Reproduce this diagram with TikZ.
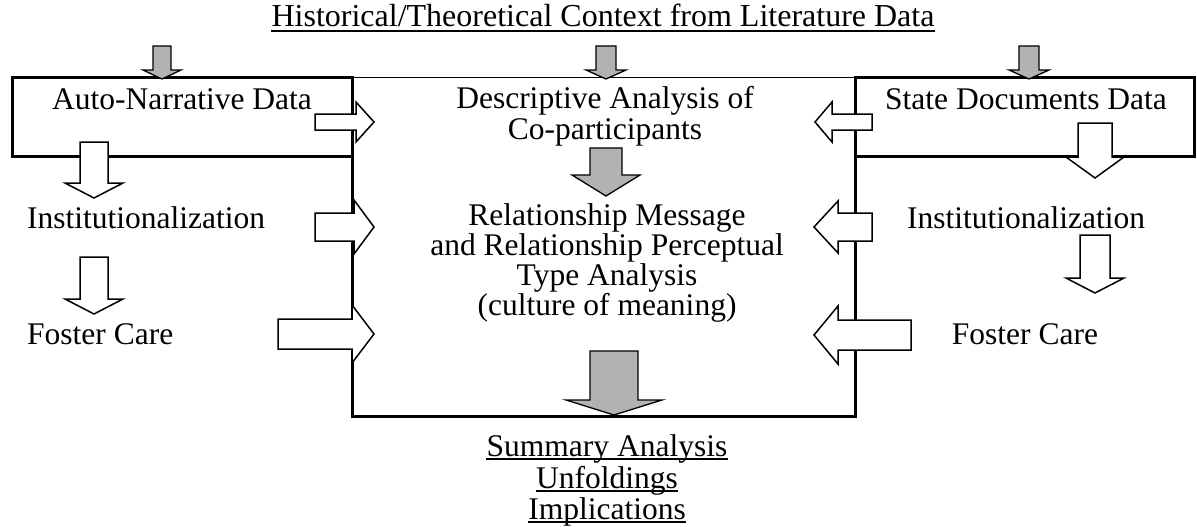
\documentclass[tikz,border=0pt]{standalone}
\usepackage{fontspec}
\setmainfont{Liberation Serif}
\definecolor{arrowgray}{RGB}{178,178,178}
\newcommand{\VArrowShape}[7]{%
  \draw[#1] ({#2-#3},#5) -- ({#2-#3},#6) -- ({#2-#4},#6) -- (#2,#7) -- ({#2+#4},#6) -- ({#2+#3},#6) -- ({#2+#3},#5) -- cycle;}
\newcommand{\HArrowShape}[7]{%
  \draw[#1] (#5,{#2-#3}) -- (#6,{#2-#3}) -- (#6,{#2-#4}) -- (#7,#2) -- (#6,{#2+#4}) -- (#6,{#2+#3}) -- (#5,{#2+#3}) -- cycle;}
\begin{document}
\begin{tikzpicture}[x=1pt,y=-1pt,
  thickline/.style={line width=3pt, line cap=rect},
  thinline/.style={line width=1pt},
  whitearrow/.style={draw=black, fill=white, line width=1.5pt, line join=miter},
  grayarrow/.style={draw=black, fill=arrowgray, line width=1.3pt, line join=miter},
  txt/.style={font=\fontsize{31.5}{30}\selectfont, inner sep=0pt, anchor=base},
  ltxt/.style={font=\fontsize{31.5}{30}\selectfont, inner sep=0pt, anchor=base west},
  uline/.style={line width=1.2pt}]
\useasboundingbox (0,0) rectangle (1197,527);

% boxes
\coordinate (lbTL) at (12,78);
\coordinate (lbBR) at (352,156);
\coordinate (rbTL) at (855,78);
\coordinate (rbBR) at (1194,156);
\coordinate (cbBL) at (352,416);
\coordinate (cbBR) at (855,416);
\draw[thinline] (lbBR |- lbTL) -- (rbTL);
\draw[thickline] (lbTL) rectangle (lbBR);
\draw[thickline] (rbTL) rectangle (rbBR);
\draw[thickline] (lbBR |- lbTL) -- (cbBL) -- (cbBR) -- (rbTL);

% texts
\node[txt, font=\fontsize{32}{30}\selectfont] (title) at (603,27) {Historical/Theoretical Context from Literature Data};
\draw[uline] ([yshift=-4pt]title.base west) -- ([yshift=-4pt]title.base east);
\node[txt] (auto) at (182,109) {Auto-Narrative Data};
\node[txt] (desc1) at (605,108) {Descriptive Analysis of};
\node[txt] (desc2) at (605,139) {Co-participants};
\node[txt] (state) at (1026,109) {State Documents Data};
\node[ltxt] (instL) at (27,228) {Institutionalization};
\node[txt] (instR) at (1026,228) {Institutionalization};
\node[ltxt] (fostL) at (27,344) {Foster Care};
\node[txt] (fostR) at (1025,344) {Foster Care};
\node[txt] (rel1) at (607,225) {Relationship Message};
\node[txt] (rel2) at (607,255) {and Relationship Perceptual};
\node[txt] (rel3) at (607,285) {Type Analysis};
\node[txt] (rel4) at (607,315) {(culture of meaning)};
\node[txt] (sum1) at (607,456) {Summary Analysis};
\node[txt] (sum2) at (607,488) {Unfoldings};
\node[txt] (sum3) at (607,519) {Implications};
\foreach \n in {sum1,sum2,sum3}
  \draw[uline] ([yshift=-3pt]\n.base west) -- ([yshift=-3pt]\n.base east);

% gray arrows from top
\VArrowShape{grayarrow}{162}{9}{19}{46}{70}{79}
\VArrowShape{grayarrow}{606}{10}{20}{46}{70}{79}
\VArrowShape{grayarrow}{1029}{10}{20}{46}{70}{79}
% gray arrows in centre
\VArrowShape{grayarrow}{606}{16}{34}{148}{175}{196}
\VArrowShape{grayarrow}{614}{24}{48}{351}{400}{415}

% white down arrows
\VArrowShape{whitearrow}{94}{14}{29}{142}{183}{198}
\VArrowShape{whitearrow}{94}{14}{29}{257}{299}{314}
\VArrowShape{whitearrow}{1095}{17}{29}{123}{157}{178}
\VArrowShape{whitearrow}{1095}{15}{29}{235}{278}{293}

% left arrows into centre
\HArrowShape{whitearrow}{122}{8}{20}{315}{356}{374}
\HArrowShape{whitearrow}{227}{14}{27}{315}{354}{374}
\HArrowShape{whitearrow}{334}{15}{29}{278}{352}{374}
% right arrows into centre
\HArrowShape{whitearrow}{122}{8}{20}{872}{832}{815}
\HArrowShape{whitearrow}{227}{14}{26}{872}{838}{814}
\HArrowShape{whitearrow}{335}{15}{29}{911}{838}{814}
\end{tikzpicture}
\end{document}
